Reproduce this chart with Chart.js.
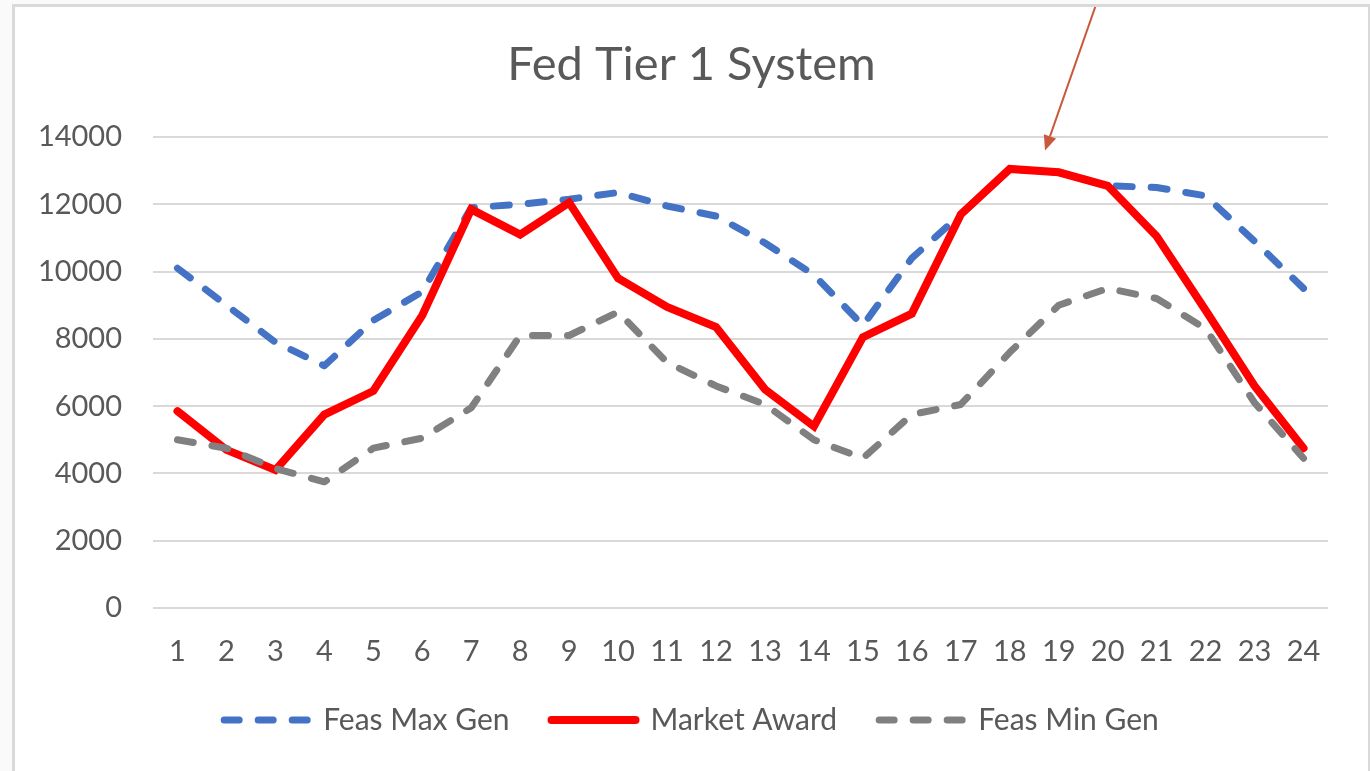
<!DOCTYPE html>
<html>
<head>
<meta charset="utf-8">
<title>Fed Tier 1 System</title>
<script src="https://cdn.jsdelivr.net/npm/chart.js@4.4.0/dist/chart.umd.min.js"></script>
<style>
    html, body { margin: 0; padding: 0; background: #fafafa; overflow: hidden; width: 1370px; height: 771px; }
    #box { position: absolute; left: 12px; top: 4px; width: 1353px; height: 800px; background: #fff; border: 3px solid #d9d9d9; }
    #wrap { position: absolute; left: 0; top: 0; width: 1353px; height: 738px; }
</style>
</head>
<body>
<div id="box">
    <div id="wrap"><canvas id="chart"></canvas></div>
</div>
<script>
// Data
const hours = ['1', '2', '3', '4', '5', '6', '7', '8', '9', '10', '11', '12',
    '13', '14', '15', '16', '17', '18', '19', '20', '21', '22', '23', '24'];
const feasMaxGen = [10100, 9000, 7900, 7200, 8550, 9400, 11900, 12000, 12150, 12350, 11950, 11650,
    10850, 9900, 8400, 10400, 11700, 13050, 12950, 12550, 12500, 12250, 10900, 9500];
const marketAward = [5850, 4700, 4100, 5750, 6450, 8700, 11850, 11100, 12050, 9800, 8950, 8350,
    6500, 5400, 8050, 8750, 11700, 13050, 12950, 12550, 11050, 8850, 6600, 4750];
const feasMinGen = [5000, 4750, 4150, 3750, 4750, 5050, 5950, 8100, 8100, 8800, 7300, 6600,
    6050, 5000, 4450, 5750, 6050, 7600, 9000, 9500, 9200, 8300, 6100, 4450];
const yMin = 0;
const yMax = 14000;
const yStep = 2000;

// annotation arrow: [category index, value]
const arrowTip = [17.72, 13600];
const arrowTail = [18.85, 18300];

const textColor = '#595959';
const font = 'Lato';

const arrowPlugin = {
    id: 'arrow',
    afterDatasetsDraw(chart) {
        const ctx = chart.ctx;
        const xs = chart.scales.x;
        const ys = chart.scales.y;
        const tx = xs.getPixelForValue(arrowTip[0]);
        const ty = ys.getPixelForValue(arrowTip[1]);
        const sx = xs.getPixelForValue(arrowTail[0]);
        const sy = ys.getPixelForValue(arrowTail[1]);
        const ang = Math.atan2(ty - sy, tx - sx);
        const len = 15, half = 6.5;
        const bx = tx - Math.cos(ang) * len;
        const by = ty - Math.sin(ang) * len;
        ctx.save();
        ctx.strokeStyle = '#c9593b';
        ctx.fillStyle = '#c9593b';
        ctx.lineWidth = 2;
        ctx.beginPath();
        ctx.moveTo(sx, sy);
        ctx.lineTo(bx, by);
        ctx.stroke();
        ctx.beginPath();
        ctx.moveTo(tx, ty);
        ctx.lineTo(bx + Math.sin(ang) * half, by - Math.cos(ang) * half);
        ctx.lineTo(bx - Math.sin(ang) * half, by + Math.cos(ang) * half);
        ctx.closePath();
        ctx.fill();
        ctx.restore();
    }
};

const dashed = {
    borderWidth: 7,
    borderDash: [16, 19],
    borderCapStyle: 'round',
    borderJoinStyle: 'round',
    pointRadius: 0,
    tension: 0
};

// legend lines: keep the dataset dash pattern
function legendLabels(chart) {
    return Chart.defaults.plugins.legend.labels.generateLabels(chart).map(item => {
        const ds = chart.data.datasets[item.datasetIndex];
        item.lineDash = ds.borderDash ? [15, 19] : [];
        item.lineCap = 'round';
        return item;
    });
}

new Chart(document.getElementById('chart'), {
    type: 'line',
    data: {
        labels: hours,
        datasets: [
            Object.assign({ label: 'Feas Max Gen', data: feasMaxGen, borderColor: '#4472c4', backgroundColor: '#4472c4', order: 3 }, dashed),
            { label: 'Market Award', data: marketAward, borderColor: '#ff0000', backgroundColor: '#ff0000',
              borderWidth: 8, pointRadius: 0, tension: 0, borderCapStyle: 'round', order: 2 },
            Object.assign({ label: 'Feas Min Gen', data: feasMinGen, borderColor: '#808080', backgroundColor: '#808080', order: 1 }, dashed)
        ]
    },
    options: {
        responsive: true,
        maintainAspectRatio: false,
        animation: false,
        layout: { padding: 0 },
        plugins: {
            title: {
                display: true,
                text: 'Fed Tier 1 System',
                color: textColor,
                font: { family: font, size: 47, weight: 'normal' },
                padding: { top: 30, bottom: 43.6 }
            },
            legend: {
                position: 'bottom',
                labels: {
                    usePointStyle: true,
                    pointStyle: 'line',
                    pointStyleWidth: 84,
                    padding: 42,
                    color: textColor,
                    font: { family: font, size: 30 },
                    generateLabels: legendLabels,
                    sort: (a, b) => a.datasetIndex - b.datasetIndex
                }
            },
            tooltip: { enabled: false }
        },
        scales: {
            x: {
                offset: true,
                grid: { display: false, drawTicks: false },
                border: { display: false },
                ticks: { color: textColor, font: { family: font, size: 29 }, padding: 26, maxRotation: 0 },
                afterFit: (scale) => { scale.height = 55; }
            },
            y: {
                min: yMin,
                max: yMax,
                ticks: { stepSize: yStep, color: textColor, font: { family: font, size: 29 }, padding: 31,
                         callback: (v) => String(v) },
                grid: { color: '#d9d9d9', lineWidth: 2, drawTicks: false },
                border: { display: false },
                afterFit: (scale) => { scale.width = 138; }
            },
            yRight: {
                position: 'right',
                ticks: { display: false },
                grid: { display: false, drawTicks: false },
                border: { display: false },
                afterFit: (scale) => { scale.width = 40; }
            }
        }
    },
    plugins: [arrowPlugin]
});
</script>
</body>
</html>
